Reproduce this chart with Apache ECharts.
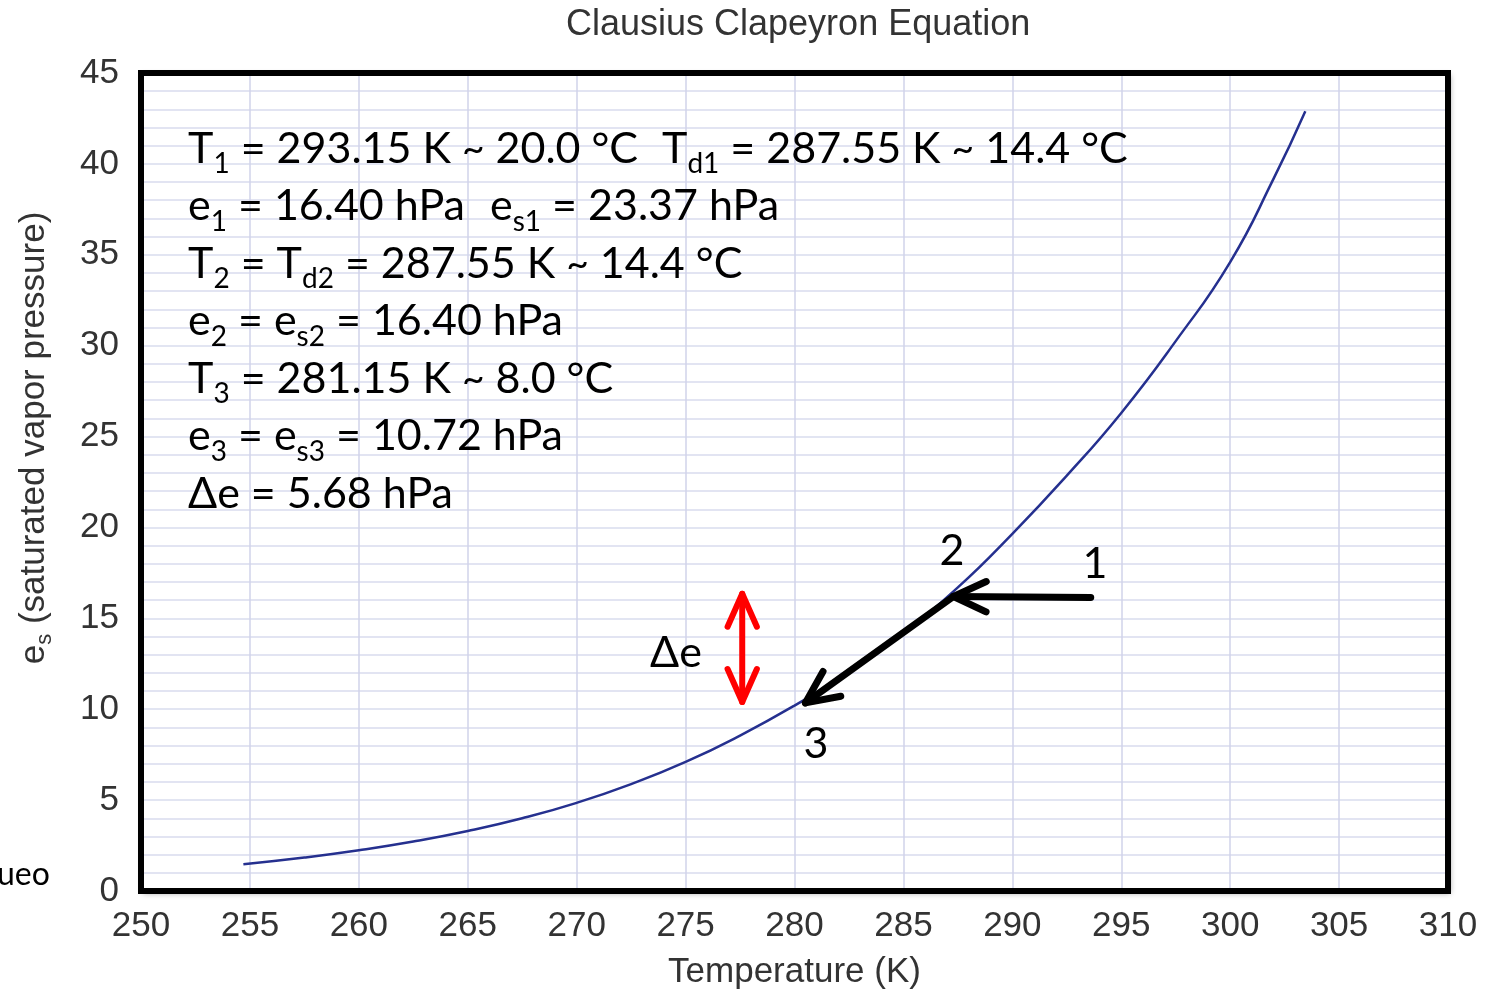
<!DOCTYPE html>
<html>
<head>
<meta charset="utf-8">
<script src="https://cdn.jsdelivr.net/npm/echarts@6/dist/echarts.min.js"></script>
<style>html,body{margin:0;padding:0;background:#fff;overflow:hidden}#c{width:1509px;height:994px}</style>
</head>
<body>
<div id="c"></div>
<script>
// ---- data ----
const temperatureK = [254.7, 257.5, 260, 262.5, 265, 267.5, 270, 272.5, 275, 277.5, 280, 282.5, 285, 287.5, 290, 292.5, 295, 297.5, 300, 302, 303.45];
const vaporPressure = [1.47, 1.84, 2.24, 2.72, 3.3, 4.0, 4.85, 5.88, 7.1, 8.55, 10.2, 12.05, 14.2, 16.7, 19.65, 22.85, 26.3, 30.25, 34.6, 39.2, 42.9];
// process arrows 1 -> 2 -> 3 (data coordinates: [T, e])
const processArrowFrom = [[293.6, 16.15], [287.3, 16.2]];
const processArrowTo = [[287.3, 16.2], [280.5, 10.35]];
// double-headed Δe arrow
const deltaArrowEnds = [[277.6, 10.4], [277.6, 16.35]];
const xTickRange = [250, 310, 5];
const yTickRange = [0, 45, 5];
const infoLines = [
  '{n|T}{s|1}{n| = 293.15 K }{t|~}{n| 20.0 °C}',
  '{n|e}{s|1}{n| = 16.40 hPa}',
  '{n|T}{s|2}{n| = T}{s|d2}{n| = 287.55 K }{t|~}{n| 14.4 °C}',
  '{n|e}{s|2}{n| = e}{s|s2}{n| = 16.40 hPa}',
  '{n|T}{s|3}{n| = 281.15 K }{t|~}{n| 8.0 °C}',
  '{n|e}{s|3}{n| = e}{s|s3}{n| = 10.72 hPa}',
  '{n|Δe = 5.68 hPa}'
];
const infoLine1b = '{n|T}{s|d1}{n| = 287.55 K }{t|~}{n| 14.4 °C}';
const infoLine2b = '{n|e}{s|s1}{n| = 23.37 hPa}';

// ---- chart ----
const LF = 'Lato, "Open Sans", sans-serif';
const AF = '"Liberation Sans", Arial, sans-serif';
const infoRich = {
  n: {fontFamily: LF, fontSize: 43, lineHeight: 60, fill: '#000'},
  t: {fontFamily: LF, fontSize: 39, lineHeight: 60, fill: '#000'},
  s: {fontFamily: LF, fontSize: 28, lineHeight: 28, padding: [30, 0, 0, 0], fill: '#000'}
};

function headPoints(tip, from, len, ang) {
  const dx = from[0] - tip[0], dy = from[1] - tip[1];
  const L = Math.hypot(dx, dy) || 1;
  const ux = dx / L, uy = dy / L;
  const c = Math.cos(ang), s = Math.sin(ang);
  return [
    [tip[0] + len * (ux * c - uy * s), tip[1] + len * (ux * s + uy * c)],
    tip,
    [tip[0] + len * (ux * c + uy * s), tip[1] + len * (-ux * s + uy * c)]
  ];
}
function makeArrowRenderer(color, width, len, ang, both) {
  return function (params, api) {
    const p1 = api.coord([api.value(0), api.value(1)]);
    const p2 = api.coord([api.value(2), api.value(3)]);
    const st = {stroke: color, lineWidth: width, lineCap: 'round', lineJoin: 'round', fill: null};
    const children = [
      {type: 'line', shape: {x1: p1[0], y1: p1[1], x2: p2[0], y2: p2[1]}, style: st},
      {type: 'polyline', shape: {points: headPoints(p2, p1, len, ang)}, style: st}
    ];
    if (both) children.push({type: 'polyline', shape: {points: headPoints(p1, p2, len, ang)}, style: st});
    return {type: 'group', children: children};
  };
}

const chart = echarts.init(document.getElementById('c'));
const infoGraphics = infoLines.map((t, i) => ({
  type: 'text', x: 188, y: 119 + i * 57.5, z: 100,
  style: {text: t, rich: infoRich, align: 'left', verticalAlign: 'top'}
}));
infoGraphics.push({type: 'text', x: 662, y: 119, z: 100, style: {text: infoLine1b, rich: infoRich, align: 'left', verticalAlign: 'top'}});
infoGraphics.push({type: 'text', x: 490, y: 176.5, z: 100, style: {text: infoLine2b, rich: infoRich, align: 'left', verticalAlign: 'top'}});

const labelStyle = (txt, x, y) => ({
  type: 'text', x: x, y: y, z: 100,
  style: {text: txt, font: '43px ' + LF, fill: '#000', align: 'center', verticalAlign: 'middle'}
});

const frameLine = {show: true, onZero: false, lineStyle: {color: '#000', width: 6, cap: 'square'}};
const frameAxisCommon = {
  type: 'value', axisLine: frameLine, axisTick: {show: false},
  axisLabel: {show: false}, splitLine: {show: false}
};

chart.setOption({
  backgroundColor: '#fff',
  animation: false,
  title: {
    text: 'Clausius Clapeyron Equation',
    left: 561, top: 2,
    textStyle: {fontFamily: AF, fontSize: 36, fontWeight: 'normal', color: '#333'}
  },
  grid: {
    left: 141, right: 61, top: 73, bottom: 103,
    containLabel: false, outerBoundsMode: 'none',
    show: true, backgroundColor: '#fff', borderWidth: 0,
    shadowColor: 'rgba(0,0,0,0.4)', shadowBlur: 6, shadowOffsetX: 2, shadowOffsetY: 2
  },
  xAxis: [{
    type: 'value', position: 'bottom', min: xTickRange[0], max: xTickRange[1], interval: xTickRange[2],
    axisLine: frameLine, axisTick: {show: false},
    axisLabel: {fontFamily: AF, fontSize: 35, color: '#333', margin: 18},
    splitLine: {show: true, showMinLine: false, showMaxLine: false, lineStyle: {color: '#d0d3ea', width: 1.5}},
    name: 'Temperature (K)', nameLocation: 'middle', nameGap: 64, nameMoveOverlap: false,
    nameTextStyle: {fontFamily: AF, fontSize: 35, color: '#333'}
  }, Object.assign({position: 'top', min: xTickRange[0], max: xTickRange[1], interval: xTickRange[2]}, frameAxisCommon)],
  yAxis: [{
    type: 'value', position: 'left', min: yTickRange[0], max: yTickRange[1], interval: yTickRange[2],
    axisLine: frameLine, axisTick: {show: false},
    axisLabel: {fontFamily: AF, fontSize: 35, color: '#333', margin: 22},
    splitLine: {show: true, showMinLine: false, showMaxLine: false, lineStyle: {color: '#d9dcee', width: 1.5}},
    minorTick: {show: false, splitNumber: 5},
    minorSplitLine: {show: true, lineStyle: {color: '#d9dcee', width: 1.5}}
  }, Object.assign({position: 'right', min: yTickRange[0], max: yTickRange[1], interval: yTickRange[2]}, frameAxisCommon)],
  graphic: [
    {
      type: 'text', x: 34, y: 438, rotation: Math.PI / 2, z: 100,
      style: {
        text: '{a|e}{b|s}{a| (saturated vapor pressure)}',
        rich: {
          a: {fontFamily: AF, fontSize: 35, lineHeight: 44, fill: '#333'},
          b: {fontFamily: AF, fontSize: 22, lineHeight: 22, padding: [22, 0, 0, 0], fill: '#333'}
        },
        align: 'center', verticalAlign: 'middle'
      }
    },
    {type: 'text', x: -3, y: 875, z: 100, style: {text: 'ueo', font: '32px ' + LF, fill: '#000', align: 'left', verticalAlign: 'middle'}},
    labelStyle('2', 952, 551),
    labelStyle('1', 1095, 564),
    labelStyle('3', 816, 744),
    labelStyle('Δe', 676, 653)
  ].concat(infoGraphics),
  series: [
    {
      name: 'es', type: 'line', smooth: true, showSymbol: false, z: 3,
      data: temperatureK.map((t, i) => [t, vaporPressure[i]]),
      lineStyle: {color: '#25308f', width: 2.5}
    },
    {
      name: 'process', type: 'custom', z: 10, clip: false,
      renderItem: makeArrowRenderer('#000', 7, 36, 25 * Math.PI / 180, false),
      encode: {x: [0, 2], y: [1, 3]},
      data: processArrowFrom.map((f, i) => [f[0], f[1], processArrowTo[i][0], processArrowTo[i][1]])
    },
    {
      name: 'delta', type: 'custom', z: 10, clip: false,
      renderItem: makeArrowRenderer('#ff0000', 6, 36, 24 * Math.PI / 180, true),
      encode: {x: [0, 2], y: [1, 3]},
      data: [[deltaArrowEnds[0][0], deltaArrowEnds[0][1], deltaArrowEnds[1][0], deltaArrowEnds[1][1]]]
    }
  ]
});
</script>
</body>
</html>
